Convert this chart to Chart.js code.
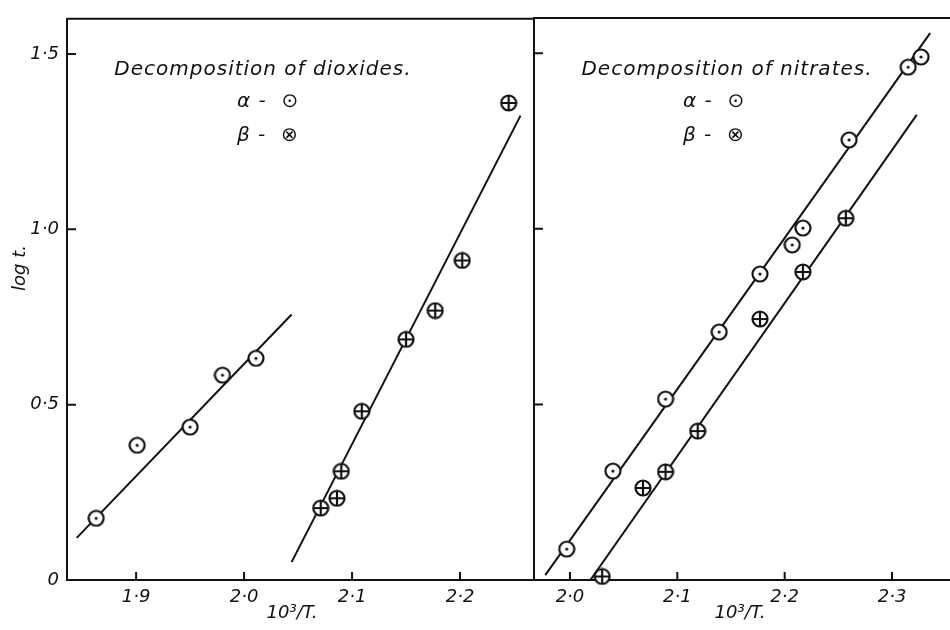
<!DOCTYPE html>
<html>
<head>
<meta charset="utf-8">
<script src="https://cdn.jsdelivr.net/npm/chart.js@4.4.0/dist/chart.umd.min.js"></script>
<style>
  body { margin: 0; background: #fff; width: 950px; height: 630px; position: relative; overflow: hidden; }
  #left { position: absolute; left: 0; top: 0; }
  #right { position: absolute; left: 530px; top: 0; }
</style>
</head>
<body>
<canvas id="left" width="534" height="630"></canvas>
<canvas id="right" width="420" height="630"></canvas>
<script>
// tick values and labels
const yTicks = [0, 0.5, 1.0, 1.5];
const yTickLabels = ['0', '0·5', '1·0', '1·5'];
const dioxTicks = [1.9, 2.0, 2.1, 2.2];
const dioxTickLabels = ['1·9', '2·0', '2·1', '2·2'];
const nitrTicks = [2.0, 2.1, 2.2, 2.3];
const nitrTickLabels = ['2·0', '2·1', '2·2', '2·3'];

// decomposition of dioxides
const dioxAlphaX = [1.863, 1.901, 1.950, 1.980, 2.011];
const dioxAlphaY = [0.176, 0.384, 0.436, 0.584, 0.632];
const dioxAlphaFitX = [1.845, 2.044];
const dioxAlphaFitY = [0.12, 0.757];
const dioxBetaX = [2.071, 2.086, 2.090, 2.109, 2.150, 2.177, 2.202, 2.245];
const dioxBetaY = [0.205, 0.233, 0.310, 0.481, 0.686, 0.768, 0.911, 1.360];
const dioxBetaFitX = [2.044, 2.256];
const dioxBetaFitY = [0.051, 1.324];

// decomposition of nitrates
const nitrAlphaX = [1.997, 2.040, 2.089, 2.139, 2.177, 2.207, 2.217, 2.260, 2.315, 2.327];
const nitrAlphaY = [0.088, 0.310, 0.515, 0.706, 0.871, 0.954, 1.002, 1.253, 1.460, 1.489];
const nitrAlphaFitX = [1.977, 2.3355];
const nitrAlphaFitY = [0.014, 1.557];
const nitrBetaX = [2.030, 2.068, 2.089, 2.119, 2.177, 2.217, 2.257];
const nitrBetaY = [0.010, 0.262, 0.308, 0.424, 0.743, 0.877, 1.030];
const nitrBetaFitX = [2.019, 2.323];
const nitrBetaFitY = [0.0, 1.324];

const INK = '#111';
const FONT = 'italic 20px "DejaVu Sans"';

function pts(xs, ys) {
  return xs.map((x, i) => ({ x: x, y: ys[i] }));
}

function makeMarker(kind) {
  const d = 18;
  const c = document.createElement('canvas');
  c.width = d; c.height = d;
  const g = c.getContext('2d');
  g.fillStyle = '#fff';
  g.strokeStyle = INK;
  g.lineWidth = 2.2;
  g.beginPath();
  g.arc(d / 2, d / 2, d / 2 - 1.5, 0, Math.PI * 2);
  g.fill();
  g.stroke();
  if (kind === 'alpha') {
    g.fillStyle = INK;
    g.beginPath();
    g.arc(d / 2, d / 2, 1.6, 0, Math.PI * 2);
    g.fill();
  } else {
    g.beginPath();
    g.moveTo(d / 2, 2); g.lineTo(d / 2, d - 2);
    g.moveTo(2, d / 2); g.lineTo(d - 2, d / 2);
    g.stroke();
  }
  return c;
}
const alphaMark = makeMarker('alpha');
const betaMark = makeMarker('beta');

function fitLine(xs, ys) {
  return {
    data: pts(xs, ys), showLine: true, borderColor: INK, borderWidth: 2,
    pointRadius: 0, pointHoverRadius: 0, order: 2
  };
}
function scatter(xs, ys, mark) {
  return {
    data: pts(xs, ys), showLine: false, pointStyle: mark,
    pointRadius: 9, pointHoverRadius: 9, clip: false, order: 1
  };
}

// draws the frame bits, inward ticks and the written notes
const decor = {
  id: 'decor',
  afterDraw(chart, args, o) {
    const ctx = chart.ctx;
    const a = chart.chartArea;
    const xs = chart.scales.x, ys = chart.scales.y;
    ctx.save();
    ctx.strokeStyle = INK;
    ctx.lineWidth = 2;
    ctx.beginPath();
    ctx.moveTo(a.left, a.top); ctx.lineTo(a.right, a.top);
    xs.ticks.forEach(t => {
      const px = xs.getPixelForValue(t.value);
      ctx.moveTo(px, a.bottom); ctx.lineTo(px, a.bottom - 8);
    });
    ys.ticks.forEach(t => {
      if (o.skipZero && t.value === 0) return;
      const py = ys.getPixelForValue(t.value);
      ctx.moveTo(a.left, py); ctx.lineTo(a.left + 9, py);
    });
    ctx.stroke();

    ctx.fillStyle = INK;
    ctx.font = FONT;
    ctx.letterSpacing = '1px';
    ctx.textAlign = 'center';
    ctx.textBaseline = 'middle';
    ctx.fillText(o.title, o.titleX, 70);
    ctx.textAlign = 'left';
    ctx.fillText('α -  ⊙', o.keyX, 102);
    ctx.fillText('β -  ⊗', o.keyX, 136);
    ctx.letterSpacing = '0px';
    ctx.textAlign = 'center';
    ctx.font = 'italic 18px "DejaVu Sans"';
    ctx.fillText('10³/T.', o.xTitleX, 613);
    if (o.yTitle) {
      ctx.translate(20, 268);
      ctx.rotate(-Math.PI / 2);
      ctx.fillText(o.yTitle, 0, 0);
    }
    ctx.restore();
  }
};

function makeChart(id, datasets, xMin, xMax, xT, xL, leftW, showY, deco) {
  return new Chart(document.getElementById(id), {
    type: 'scatter',
    data: { datasets: datasets },
    options: {
      responsive: false,
      animation: false,
      events: [],
      layout: { autoPadding: false, padding: { top: 18, right: 0, left: 0, bottom: 0 } },
      plugins: { legend: { display: false }, tooltip: { enabled: false }, decor: deco },
      scales: {
        x: {
          type: 'linear', min: xMin, max: xMax,
          afterBuildTicks: s => { s.ticks = xT.map(v => ({ value: v })); },
          afterFit: s => { s.height = 50; },
          grid: { display: false, drawTicks: false },
          border: { display: true, color: INK, width: 2 },
          ticks: {
            color: INK, font: { family: 'DejaVu Sans', style: 'italic', size: 18 },
            padding: 7, maxRotation: 0, autoSkip: false,
            callback: (v) => { const i = xT.indexOf(Math.round(v * 100) / 100); return i < 0 ? '' : xL[i]; }
          }
        },
        y: {
          type: 'linear', min: 0, max: 1.6,
          afterBuildTicks: s => { s.ticks = yTicks.map(v => ({ value: v })); },
          afterFit: s => { s.width = leftW; },
          grid: { display: false, drawTicks: false },
          border: { display: true, color: INK, width: 2 },
          ticks: {
            display: showY, color: INK, font: { family: 'DejaVu Sans', style: 'italic', size: 18 },
            padding: 8, autoSkip: false,
            callback: (v) => { const i = yTicks.indexOf(Math.round(v * 10) / 10); return i < 0 ? '' : yTickLabels[i]; }
          }
        }
      }
    },
    plugins: [decor]
  });
}

makeChart('left', [
  fitLine(dioxAlphaFitX, dioxAlphaFitY),
  fitLine(dioxBetaFitX, dioxBetaFitY),
  scatter(dioxAlphaX, dioxAlphaY, alphaMark),
  scatter(dioxBetaX, dioxBetaY, betaMark)
], 1.836, 2.2685, dioxTicks, dioxTickLabels, 67, true,
  { title: 'Decomposition of dioxides.', titleX: 263, keyX: 237, xTitleX: 292, yTitle: 'log t.', skipZero: false });

makeChart('right', [
  fitLine(nitrAlphaFitX, nitrAlphaFitY),
  fitLine(nitrBetaFitX, nitrBetaFitY),
  scatter(nitrAlphaX, nitrAlphaY, alphaMark),
  scatter(nitrBetaX, nitrBetaY, betaMark)
], 1.9665, 2.354, nitrTicks, nitrTickLabels, 4, false,
  { title: 'Decomposition of nitrates.', titleX: 197, keyX: 153, xTitleX: 210, yTitle: null, skipZero: true });
</script>
</body>
</html>
